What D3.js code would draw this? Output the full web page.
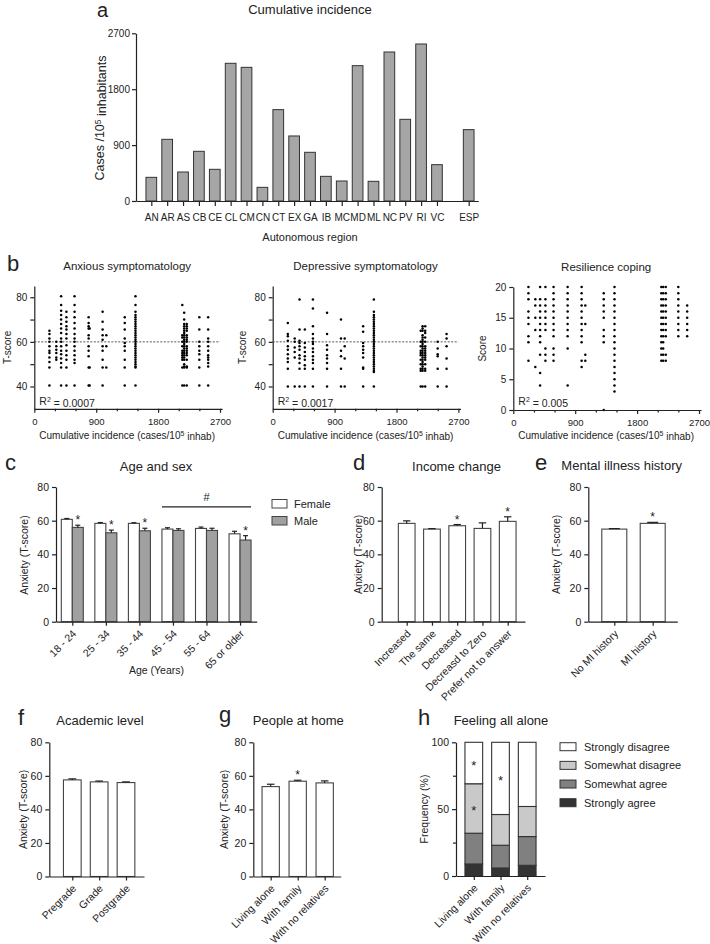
<!DOCTYPE html>
<html><head><meta charset="utf-8">
<script src="https://cdn.jsdelivr.net/npm/d3@7"></script>
<style>body{margin:0;background:#fff} svg{display:block}</style>
</head><body><svg id="fig" width="710" height="944"></svg>
<script>
// ---------------- DATA ----------------
const regions = ["AN","AR","AS","CB","CE","CL","CM","CN","CT","EX","GA","IB","MC","MD","ML","NC","PV","RI","VC","","ESP"];
const incidence = [381,993,467,800,510,2217,2152,220,1471,1047,784,397,322,2179,317,2399,1315,2528,585,null,1149];
const incidenceTicks = [0,900,1800,2700];
const incidenceMinorTicks = [300,600,1200,1500,2100,2400];

// scatter columns: [cumulative incidence of region, individual scores]
const anxietyCols = [
  [220,[65,63.5,61.5,60,58,56,55,53,51,48.5,40.5]],
  [320,[60,58,56.5,55,53,52]],
  [390,[80.5,76.5,74,72,70,68,66,64,61.5,60,58,56,54.5,52.5,50.5,48.5,40.5]],
  [467,[73.5,71,69,67,65.5,63.5,61.5,58.5,56,54,52,48.5,40.5]],
  [585,[80.5,76.5,73.5,71,68.5,66,63.5,61.5,60,58,56,54,52,50.5,40.5]],
  [790,[71,68.5,67,66,63,61.5,58,56,53.5,48.5,40.5]],
  [805,[66,48.5,40.5]],
  [993,[73.5,69,65.5,63,61,58,56,52,48.5,40.5]],
  [1047,[63,58,48.5]],
  [1315,[71,68.5,65.5,61.5,59.5,58,56,52,48.5,40.5]],
  [1471,[80.5,76.5,73.5,72,71,70,69,68,67,66,65,64,63,62,61,60,59,58,57,56,55,54,53,52,51,50,49,48.5,40.5]],
  [2152,[76.5,63,62,60,58,56,55,54,53,52,48.5,40.5]],
  [2179,[73,70,68,67,66,65,64,63,62,61,60,59,58,57,56,55,54,53,52,50,49,48.5,40.5]],
  [2217,[68,67,66,65,63,62,61,60,58,57,56,55,54,52,49,48.5,40.5]],
  [2399,[71,65.5,60,58,56,54.5,52,48.5,40.5]],
  [2528,[71,65.5,61.5,60,58,56,54,53,52,50.5,49,40.5]]
];
const depressionCols = [
  [220,[68.5,63.5,62.5,60.5,58,56.5,54.5,52.5,51,48,40]],
  [320,[61.5,60,57.5,55.5,53,40]],
  [390,[79,65.5,60.5,59.5,58,56.5,54,52.5,50.5,48,40]],
  [467,[65.5,59.5,57.5,55.5,53.5,52,49.5,48,40]],
  [585,[79,75,67,63.5,61.5,60,59,57,55.5,53.5,52,50.5,48,40]],
  [790,[73,63.5,58.5,56.5,54,52.5,50.5,48,40]],
  [993,[70,61.5,56,53.5,48,40]],
  [1047,[61.5,58,52.5,40]],
  [1315,[67,64.5,59.5,58,56.5,55,53,48.5,48,40]],
  [1471,[79,73.5,72,71,70,69,68,67,66,65,64,63,62,61,60,59,58,57,56,55,54,53,52,51,50,49,48,47,46.5,40]],
  [2152,[65,60,58,56,55,54,52,50,48,47,40]],
  [2179,[67,66,65,63,62,61,60,59,58,57,56,55,54,53,52,51,50,49,48,47,40]],
  [2217,[67,65,64,62,60,58,57,56,55,54,53,52,50,48,47,40]],
  [2399,[60,57,54.5,53.5,48,40]],
  [2528,[63.5,61.5,58,52.5,48,40]]
];
const resilienceCols = [
  [220,[20,19,18,16,15,14,12,11,8]],
  [320,[18,17,15,13,7]],
  [390,[20,18,17,16,15,14,13,12,11,9,6,4]],
  [467,[20,18,17,16,15,14,13,10,9,8]],
  [585,[20,19,18,17,16,15,14,13,12,10,9,8]],
  [790,[20,19,18,17,16,15,14,13,12,10,4]],
  [993,[20,19,18,17,16,15,14,13,12,11,8,7]],
  [1047,[17,14,9,8]],
  [1315,[19,18,17,16,15,13,12,11,0]],
  [1471,[20,19,18,17,16,15,14,13,12,11,10,9,8,7,6,5,4,3]],
  [2152,[20,19,18,17,16,15,14,13,12,11,10,9,8]],
  [2179,[20,19,18,17,16,15,14,13,12,11,10,9,8]],
  [2217,[20,19,18,17,16,15,14,13,12,9,8]],
  [2399,[20,19,18,17,16,15,14,13,12]],
  [2528,[17,16,15,14,13,12]]
];
const tscoreTicks = [40,60,80];
const tscoreMinor = [50,70];
const resilienceTicks = [0,5,10,15,20];

const ageGroups = ["18 - 24","25 - 34","35 - 44","45 - 54","55 - 64","65 or older"];
const femaleMean = [60.8,58.4,58.4,55.0,55.4,52.2];
const femaleSem  = [0.5,0.5,0.4,0.8,0.8,1.5];
const maleMean   = [56.0,52.8,54.0,54.2,54.2,48.5];
const maleSem    = [1.3,1.6,1.5,1.0,1.3,2.6];
const maleStar   = [true,true,true,false,false,true];
const ageSigBar  = {from:"45 - 54", to:"65 or older", level:68.2, label:"#"};

const incomeCats = ["Increased","The same","Decreased","Decreasd to Zero","Prefer not to answer"];
const incomeMean = [58.4,55.0,57.0,55.4,59.6];
const incomeSem  = [1.5,0.3,0.7,3.3,2.7];
const incomeStar = [false,false,true,false,true];

const miCats = ["No MI history","MI history"];
const miMean = [55.0,58.4];
const miSem  = [0.3,0.6];
const miStar = [false,true];

const academicCats = ["Pregrade","Grade","Postgrade"];
const academicMean = [57.6,56.4,56.0];
const academicSem  = [0.6,0.5,0.4];
const academicStar = [false,false,false];

const homeCats = ["Living alone","With family","With no relatives"];
const homeMean = [53.6,56.8,55.8];
const homeSem  = [1.4,0.6,1.2];
const homeStar = [false,true,false];

const aloneLevels = ["Strongly agree","Somewhat agree","Somewhat disagree","Strongly disagree"];
const aloneStronglyAgree    = [9,6,8];
const aloneSomewhatAgree    = [23,17,21.5];
const aloneSomewhatDisagree = [37,23,22.5];
const aloneStronglyDisagree = [31,54,48];
const aloneStars = [["Living alone","Strongly disagree"],["Living alone","Somewhat disagree"],["With family","Strongly disagree"]];
const aloneColors = ["#333333","#808080","#c9c9c9","#ffffff"];
const anxietyTicks = [0,20,40,60,80];
const freqTicks = [0,50,100];

// ---------------- HELPERS ----------------
const FONT = '"Liberation Sans", Arial, Helvetica, sans-serif';
const INK = "#222";
const fmt = d3.format("d");
const svg = d3.select("#fig");
svg.append("rect").attr("width",710).attr("height",944).attr("fill","#fff");

function text(x,y,s,size,anchor="start",g=svg){
  return g.append("text").attr("x",x).attr("y",y).attr("font-family",FONT)
    .attr("font-size",size).attr("fill",INK).attr("text-anchor",anchor).text(s);
}
function vtext(cx,cy,s,size,g=svg){
  return g.append("text").attr("transform",`translate(${cx},${cy}) rotate(-90)`)
    .attr("dy","0.35em").attr("font-family",FONT).attr("font-size",size)
    .attr("fill",INK).attr("text-anchor","middle").text(s);
}
function styleAxis(sel,fs){
  sel.attr("font-family",FONT).attr("font-size",fs);
  sel.select(".domain").attr("stroke",INK).attr("stroke-width",1.2);
  sel.selectAll(".tick line").attr("stroke",INK).attr("stroke-width",1.2);
  sel.selectAll(".tick text").attr("fill",INK);
}
function pointScale(cats,a0,a1,c0,step){
  const n=cats.length, W=a1-a0;
  const extra = W - step*(n-1);
  return d3.scalePoint().domain(cats).range([a0,a1]).padding((W/step-n+1)/2).align((c0-a0)/extra);
}
function star(g,x,yTop,size=12){
  text(x,yTop-1,"*",size,"middle",g);
}

// ---------------- PANEL a ----------------
(function(){
  const g = svg.append("g");
  const x = pointScale(regions,136,478.3,151.3,15.87);
  const y = d3.scaleLinear().domain([0,2700]).range([201,33.3]);
  const bw = 10.7;
  const data = regions.map((r,i)=>({r,v:incidence[i]})).filter(d=>d.v!=null);
  g.selectAll("rect").data(data).join("rect")
    .attr("x",d=>x(d.r)-bw/2).attr("y",d=>y(d.v)).attr("width",bw).attr("height",d=>y(0)-y(d.v))
    .attr("fill","#a6a6a6").attr("stroke","#333").attr("stroke-width",1);
  g.append("g").attr("transform","translate(136,0)")
    .call(d3.axisLeft(y).tickValues(incidenceTicks).tickFormat(fmt).tickSize(4).tickSizeOuter(0).tickPadding(2))
    .call(s=>styleAxis(s,10));
  g.append("g").attr("transform","translate(0,201)")
    .call(d3.axisBottom(x).tickValues(regions.filter(r=>r!=="")).tickSize(5).tickSizeOuter(0).tickPadding(8))
    .call(s=>styleAxis(s,10));
  text(310,14,"Cumulative incidence",13,"middle");
  text(310,241,"Autonomous region",11,"middle");
  const t = g.append("text").attr("transform","translate(100,118) rotate(-90)").attr("dy","0.35em")
    .attr("font-family",FONT).attr("font-size",12.5).attr("fill",INK).attr("text-anchor","middle");
  t.append("tspan").text("Cases /10");
  t.append("tspan").attr("dy","-0.45em").attr("font-size",8.5).text("5");
  t.append("tspan").attr("dy","0.45em").text(" inhabitants");
  text(97,17,"a",20);
})();

// ---------------- PANEL b ----------------
function scatterPanel(p){
  const g = svg.append("g");
  const x = d3.scaleLinear().domain([0,2700]).range([p.x0,p.x0+185.7]);
  const y = d3.scaleLinear().domain(p.yDomain).range([p.yBottom,p.yTop]);
  if(p.refLine!=null){
    g.append("line").attr("x1",x(0)).attr("x2",x(2700)).attr("y1",y(p.refLine)).attr("y2",y(p.refLine))
      .attr("stroke","#555").attr("stroke-width",1).attr("stroke-dasharray","2,1.5");
  }
  const pts = p.cols.flatMap(([cx,ys])=>ys.map(v=>[cx,v]));
  g.selectAll("circle").data(pts).join("circle")
    .attr("cx",d=>x(d[0])).attr("cy",d=>y(d[1])).attr("r",1.25).attr("fill","#000");
  g.append("g").attr("transform",`translate(${x(0)},0)`)
    .call(d3.axisLeft(y).tickValues(p.yTicks).tickSize(4).tickSizeOuter(0).tickPadding(3))
    .call(s=>styleAxis(s,10));
  if(p.yMinor){
    g.append("g").attr("transform",`translate(${x(0)},0)`)
      .call(d3.axisLeft(y).tickValues(p.yMinor).tickSize(4).tickFormat(""))
      .call(s=>{styleAxis(s,10); s.select(".domain").remove();});
  }
  const xe = d3.scaleLinear().domain([0,2730]).range([x(0),x(2730)]);
  g.append("g").attr("transform",`translate(0,${y(p.yDomain[0])})`)
    .call(d3.axisBottom(xe).tickValues(incidenceTicks).tickFormat(fmt).tickSize(4).tickSizeOuter(0).tickPadding(5))
    .call(s=>styleAxis(s,9.5));
  g.append("g").attr("transform",`translate(0,${y(p.yDomain[0])})`)
    .call(d3.axisBottom(xe).tickValues(incidenceMinorTicks).tickSize(2.5).tickFormat(""))
    .call(s=>{styleAxis(s,10); s.select(".domain").remove();});
  text(x(1350), p.titleY, p.title, 11.5, "middle");
  const xt = g.append("text").attr("x",x(1350)).attr("y",439).attr("font-family",FONT)
    .attr("font-size",10).attr("fill",INK).attr("text-anchor","middle");
  xt.append("tspan").text("Cumulative incidence (cases/10");
  xt.append("tspan").attr("dy","-0.4em").attr("font-size",7).text("5");
  xt.append("tspan").attr("dy","0.4em").text(" inhab)");
  vtext(p.yLabelX, (y(p.yDomain[0])+y(p.yDomain[1]))/2, p.yLabel, 10);
  const r = g.append("text").attr("x",x(0)+5).attr("y",405).attr("font-family",FONT)
    .attr("font-size",10.5).attr("fill",INK);
  r.append("tspan").text("R");
  r.append("tspan").attr("dy","-0.45em").attr("font-size",7).text("2");
  r.append("tspan").attr("dy","0.45em").text(" = "+p.r2);
}
scatterPanel({x0:34.3,yDomain:[30,85],yBottom:408.8,yTop:286.1,yTicks:tscoreTicks,yMinor:tscoreMinor,
  cols:anxietyCols,refLine:60,title:"Anxious symptomatology",titleY:270,yLabel:"T-score",yLabelX:7,r2:"0.0007"});
scatterPanel({x0:272.7,yDomain:[30,85],yBottom:408.8,yTop:286.1,yTicks:tscoreTicks,yMinor:tscoreMinor,
  cols:depressionCols,refLine:60,title:"Depressive symptomatology",titleY:270,yLabel:"T-score",yLabelX:242.5,r2:"0.0017"});
scatterPanel({x0:513.3,yDomain:[0,20],yBottom:410,yTop:287,yTicks:resilienceTicks,yMinor:null,
  cols:resilienceCols,refLine:null,title:"Resilience coping",titleY:271,yLabel:"Score",yLabelX:482,r2:"0.005"});
text(7,271,"b",22);

// ---------------- BAR PANELS ----------------
function yAxisBars(g,y,ax0,ticks){
  g.append("g").attr("transform",`translate(${ax0},0)`)
    .call(d3.axisLeft(y).tickValues(ticks).tickSize(4).tickSizeOuter(0).tickPadding(3))
    .call(s=>styleAxis(s,10.5));
}
function xAxisBars(g,x,y0,dx=2,dy=10){
  g.append("g").attr("transform",`translate(0,${y0})`)
    .call(d3.axisBottom(x).tickSize(4).tickSizeOuter(0).tickFormat(""))
    .call(s=>styleAxis(s,10.5));
  x.domain().forEach(c=>{
    g.append("text").attr("transform",`translate(${x(c)+dx},${y0+dy}) rotate(-45)`)
      .attr("font-family",FONT).attr("font-size",10.5).attr("fill",INK)
      .attr("text-anchor","end").attr("dy","0.35em").text(c);
  });
}
function errBar(g,cx,y,m,e,cap){
  g.append("line").attr("x1",cx).attr("x2",cx).attr("y1",y(m)).attr("y2",y(m+e)).attr("stroke",INK).attr("stroke-width",1.2);
  g.append("line").attr("x1",cx-cap).attr("x2",cx+cap).attr("y1",y(m+e)).attr("y2",y(m+e)).attr("stroke",INK).attr("stroke-width",1.2);
}
function simpleBars(p){
  const g = svg.append("g");
  const y = d3.scaleLinear().domain([0,80]).range([p.y0,p.yTop]);
  const x = pointScale(p.cats,p.ax0,p.ax1,p.c0,p.step);
  p.cats.forEach((c,i)=>{
    g.append("rect").attr("x",x(c)-p.bw/2).attr("y",y(p.mean[i])).attr("width",p.bw)
      .attr("height",y(0)-y(p.mean[i])).attr("fill","#fff").attr("stroke","#444").attr("stroke-width",1.1);
    errBar(g,x(c),y,p.mean[i],p.sem[i],p.bw*0.22);
    if(p.star[i]) star(g,x(c),y(p.mean[i]+p.sem[i]));
  });
  yAxisBars(g,y,p.ax0,anxietyTicks);
  xAxisBars(g,x,p.y0);
  vtext(p.ylx,(p.y0+p.yTop)/2,"Anxiety (T-score)",10.5);
  text(p.tx,p.ty,p.title,13,"middle");
  text(p.lx,p.ly,p.letter,22);
}

// panel c
(function(){
  const g = svg.append("g");
  const y = d3.scaleLinear().domain([0,80]).range([621.7,487]);
  const x = pointScale(ageGroups,56,256.7,72.3,33.55);
  const bw = 11;
  ageGroups.forEach((c,i)=>{
    g.append("rect").attr("x",x(c)-bw).attr("y",y(femaleMean[i])).attr("width",bw)
      .attr("height",y(0)-y(femaleMean[i])).attr("fill","#fff").attr("stroke","#444").attr("stroke-width",1.1);
    g.append("rect").attr("x",x(c)).attr("y",y(maleMean[i])).attr("width",bw)
      .attr("height",y(0)-y(maleMean[i])).attr("fill","#a0a0a0").attr("stroke","#444").attr("stroke-width",1.1);
    errBar(g,x(c)-bw/2,y,femaleMean[i],femaleSem[i],2.5);
    errBar(g,x(c)+bw/2,y,maleMean[i],maleSem[i],2.5);
    if(maleStar[i]) star(g,x(c)+bw/2,y(maleMean[i]+maleSem[i]));
  });
  const sy = y(ageSigBar.level);
  g.append("line").attr("x1",x(ageSigBar.from)-bw).attr("x2",x(ageSigBar.to)+bw).attr("y1",sy).attr("y2",sy)
    .attr("stroke",INK).attr("stroke-width",1.1);
  text((x(ageSigBar.from)-bw+x(ageSigBar.to)+bw)/2, sy-6, ageSigBar.label, 11, "middle", g);
  yAxisBars(g,y,56,anxietyTicks);
  xAxisBars(g,x,621.7);
  vtext(24,555,"Anxiety (T-score)",10.5);
  text(156.5,674,"Age (Years)",10.5,"middle");
  text(156,471,"Age and sex",13,"middle");
  text(5,470,"c",22);
  // legend
  const leg = [["Female","#fff"],["Male","#a0a0a0"]];
  leg.forEach(([n,f],i)=>{
    g.append("rect").attr("x",272).attr("y",499.5+i*17).attr("width",15).attr("height",8.5)
      .attr("fill",f).attr("stroke","#444").attr("stroke-width",1);
    text(294,507.8+i*17,n,11,"start",g);
  });
})();

simpleBars({cats:incomeCats,mean:incomeMean,sem:incomeSem,star:incomeStar,ax0:381.7,ax1:525,c0:406.7,step:25.25,bw:16.7,
  y0:621.7,yTop:487,ylx:358.3,title:"Income change",tx:456.5,ty:471,letter:"d",lx:353,ly:470});
simpleBars({cats:miCats,mean:miMean,sem:miSem,star:miStar,ax0:588.3,ax1:677.3,c0:614.3,step:38.4,bw:25,
  y0:621.7,yTop:487,ylx:556,title:"Mental illness history",tx:621.7,ty:470,letter:"e",lx:535,ly:470});
simpleBars({cats:academicCats,mean:academicMean,sem:academicSem,star:academicStar,ax0:49.3,ax1:144,c0:72.3,step:26.85,bw:17.7,
  y0:876.5,yTop:742.3,ylx:23.3,title:"Academic level",tx:100,ty:725,letter:"f",lx:18,ly:725});
simpleBars({cats:homeCats,mean:homeMean,sem:homeSem,star:homeStar,ax0:253.3,ax1:340.7,c0:270.7,step:27,bw:17.3,
  y0:876.5,yTop:742.3,ylx:224,title:"People at home",tx:298.3,ty:725,letter:"g",lx:219,ly:722});

// panel h
(function(){
  const g = svg.append("g");
  const y = d3.scaleLinear().domain([0,100]).range([876,742.3]);
  const x = pointScale(homeCats,456,545,473.8,26.7);
  const bw = 17.7;
  const rows = homeCats.map((c,i)=>({cat:c,"Strongly agree":aloneStronglyAgree[i],"Somewhat agree":aloneSomewhatAgree[i],
    "Somewhat disagree":aloneSomewhatDisagree[i],"Strongly disagree":aloneStronglyDisagree[i]}));
  const series = d3.stack().keys(aloneLevels)(rows);
  series.forEach((s,k)=>{
    g.selectAll(null).data(s).join("rect")
      .attr("x",d=>x(d.data.cat)-bw/2).attr("y",d=>y(d[1])).attr("width",bw).attr("height",d=>y(d[0])-y(d[1]))
      .attr("fill",aloneColors[k]).attr("stroke","#333").attr("stroke-width",1.1);
  });
  aloneStars.forEach(([c,l])=>{
    const s = series[aloneLevels.indexOf(l)].find(d=>d.data.cat===c);
    const cy = (y(s[0])+y(s[1]))/2;
    text(x(c),cy+7,"*",13,"middle",g);
  });
  g.append("g").attr("transform","translate(456,0)")
    .call(d3.axisLeft(y).tickValues(freqTicks).tickSize(4).tickSizeOuter(0).tickPadding(3))
    .call(s=>styleAxis(s,10.5));
  g.append("g").attr("transform","translate(456,0)")
    .call(d3.axisLeft(y).tickValues([25,75]).tickSize(3).tickFormat(""))
    .call(s=>{styleAxis(s,10.5); s.select(".domain").remove();});
  xAxisBars(g,x,876);
  vtext(424.5,809,"Frequency (%)",10.5);
  text(501,725,"Feeling all alone",13,"middle");
  text(418,725,"h",22);
  aloneLevels.slice().reverse().forEach((l,i)=>{
    g.append("rect").attr("x",560).attr("y",742.7+i*18.67).attr("width",16).attr("height",8)
      .attr("fill",aloneColors[3-i]).attr("stroke","#333").attr("stroke-width",1);
    text(584,750.5+i*18.67,l,11,"start",g);
  });
})();
</script></body></html>
